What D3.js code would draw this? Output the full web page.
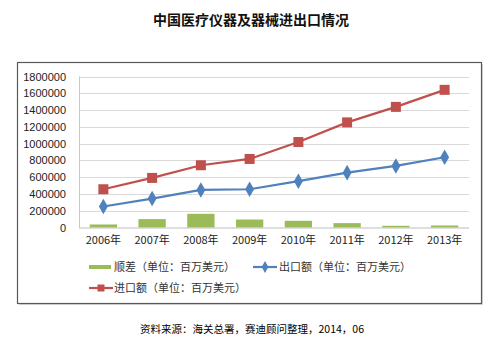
<!DOCTYPE html>
<html>
<head>
<meta charset="utf-8">
<script src="https://cdn.jsdelivr.net/npm/d3@7/dist/d3.min.js"></script>
<style>
  html, body { margin: 0; padding: 0; background: #fff; }
  svg { display: block; }
</style>
</head>
<body>
<svg id="chart" width="500" height="347"></svg>
<script>
// Years on the x axis
const years = ["2006年", "2007年", "2008年", "2009年", "2010年", "2011年", "2012年", "2013年"];
// 顺差 (百万美元)
const surplus = [36000, 100000, 163000, 95000, 80000, 52000, 20000, 24000];
// 出口额 (百万美元)
const exportValues = [250000, 345000, 448000, 456000, 552000, 654000, 734000, 837000];
// 进口额 (百万美元)
const importValues = [456000, 591000, 742000, 817000, 1019000, 1253000, 1438000, 1641000];
// Y axis ticks
const yTicks = [0, 200000, 400000, 600000, 800000, 1000000, 1200000, 1400000, 1600000, 1800000];

const labelsUnit = "（单位：百万美元）";
const seriesNames = ["顺差" + labelsUnit, "出口额" + labelsUnit, "进口额" + labelsUnit];

const svg = d3.select("#chart");
const font = "'Liberation Sans', 'DejaVu Sans', sans-serif";
const cjk = "'Noto Sans CJK SC', sans-serif";

// Title
svg.append("text")
  .attr("x", 251).attr("y", 25)
  .attr("text-anchor", "middle")
  .attr("font-family", cjk)
  .attr("font-weight", "bold")
  .attr("font-size", 14)
  .attr("fill", "#111")
  .text("中国医疗仪器及器械进出口情况");

// Chart frame
svg.append("rect")
  .attr("x", 19.5).attr("y", 64.5)
  .attr("width", 463).attr("height", 240)
  .attr("fill", "none").attr("stroke", "#d8d8d8").attr("stroke-width", 1);
svg.append("rect")
  .attr("x", 17.5).attr("y", 62.5)
  .attr("width", 464).attr("height", 241)
  .attr("fill", "#fff").attr("stroke", "#595959").attr("stroke-width", 1.2);

const plot = { left: 79, right: 469, top: 76.5, bottom: 227.5 };

const x = d3.scaleBand().domain(years).range([plot.left, plot.right]);
const y = d3.scaleLinear().domain([0, 1800000]).range([plot.bottom, plot.top]);

// Gridlines
svg.append("g")
  .selectAll("line").data(yTicks.filter(d => d > 0)).join("line")
  .attr("x1", plot.left).attr("x2", plot.right)
  .attr("y1", d => Math.round(y(d)) + 0.5).attr("y2", d => Math.round(y(d)) + 0.5)
  .attr("stroke", "#d9d9d9").attr("stroke-width", 1);

// Left axis line
svg.append("line")
  .attr("x1", plot.left + 0.5).attr("x2", plot.left + 0.5)
  .attr("y1", plot.top).attr("y2", plot.bottom)
  .attr("stroke", "#c8c8c8");

// Y axis
const yAxis = d3.axisLeft(y).tickValues(yTicks).tickSize(0).tickPadding(13)
  .tickFormat(d3.format("d"));
const gy = svg.append("g").attr("transform", `translate(${plot.left},0)`).call(yAxis);
gy.select(".domain").remove();
gy.selectAll("text").attr("font-family", font).attr("font-size", 11).attr("fill", "#222");

// Bars (顺差)
const barW = x.bandwidth() * 0.56;
svg.append("g")
  .selectAll("rect").data(surplus).join("rect")
  .attr("x", (d, i) => x(years[i]) + (x.bandwidth() - barW) / 2)
  .attr("y", d => y(d))
  .attr("width", barW)
  .attr("height", d => y(0) - y(d))
  .attr("fill", "#9bbb59");

// X axis
const xAxis = d3.axisBottom(x).tickSize(0).tickPadding(9);
const gx = svg.append("g").attr("transform", `translate(0,${plot.bottom})`).call(xAxis);
gx.select(".domain").attr("stroke", "#bdbdbd").attr("d", `M${plot.left},0.5H${plot.right}`);
gx.selectAll("text").attr("font-family", cjk).attr("font-size", 11).attr("fill", "#222");

const cx = i => x(years[i]) + x.bandwidth() / 2;
const line = d3.line().x((d, i) => cx(i)).y(d => y(d));

// 进口额 line with square markers
svg.append("path").datum(importValues)
  .attr("d", line).attr("fill", "none")
  .attr("stroke", "#c0504d").attr("stroke-width", 2.2);
svg.append("g").selectAll("rect").data(importValues).join("rect")
  .attr("x", (d, i) => cx(i) - 5).attr("y", d => y(d) - 5)
  .attr("width", 10).attr("height", 10)
  .attr("fill", "#c0504d");

// 出口额 line with diamond markers
svg.append("path").datum(exportValues)
  .attr("d", line).attr("fill", "none")
  .attr("stroke", "#4f81bd").attr("stroke-width", 2.2);
const diamond = d3.symbol().type(d3.symbolDiamond).size(70);
svg.append("g").selectAll("path").data(exportValues).join("path")
  .attr("transform", (d, i) => `translate(${cx(i)},${y(d)})`)
  .attr("d", diamond)
  .attr("fill", "#4f81bd");

// Legend
const legend = svg.append("g").attr("font-family", cjk).attr("font-size", 11).attr("fill", "#333");
// 顺差
legend.append("rect").attr("x", 89).attr("y", 265).attr("width", 22).attr("height", 4).attr("fill", "#9bbb59");
legend.append("text").attr("x", 114).attr("y", 271).attr("fill", "#333").text(seriesNames[0]);
// 出口额
legend.append("line").attr("x1", 253).attr("x2", 277).attr("y1", 267).attr("y2", 267)
  .attr("stroke", "#4f81bd").attr("stroke-width", 2.2);
legend.append("path").attr("transform", "translate(265,267)")
  .attr("d", d3.symbol().type(d3.symbolDiamond).size(40)).attr("fill", "#4f81bd");
legend.append("text").attr("x", 279).attr("y", 271).attr("fill", "#333").text(seriesNames[1]);
// 进口额
legend.append("line").attr("x1", 89).attr("x2", 113).attr("y1", 288).attr("y2", 288)
  .attr("stroke", "#c0504d").attr("stroke-width", 2.2);
legend.append("rect").attr("x", 97.5).attr("y", 284.5).attr("width", 7).attr("height", 7).attr("fill", "#c0504d");
legend.append("text").attr("x", 114).attr("y", 292).attr("fill", "#333").text(seriesNames[2]);

// Source note
svg.append("text")
  .attr("x", 140).attr("y", 333)
  .attr("font-family", cjk).attr("font-size", 10.5).attr("fill", "#000")
  .text("资料来源：海关总署，赛迪顾问整理，2014，06");
</script>
</body>
</html>
